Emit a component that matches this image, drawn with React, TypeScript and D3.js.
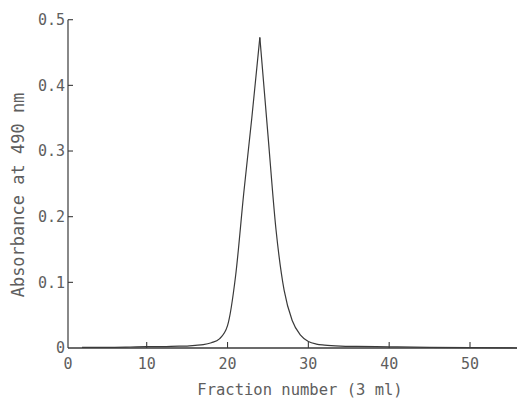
import React, { useEffect, useRef } from "react";
import * as d3 from "d3";

const fractions = [0, 2, 5, 8, 10, 12, 14, 15, 16, 17, 18, 19, 20, 21, 22, 23, 24, 25, 26, 27, 28, 29, 30, 31, 32, 34, 36, 40, 45, 50, 56];
const absorbance = [0.001, 0.001, 0.001, 0.0015, 0.002, 0.002, 0.003, 0.003, 0.004, 0.005, 0.008, 0.014, 0.034, 0.11, 0.235, 0.35, 0.473, 0.325, 0.18, 0.088, 0.042, 0.02, 0.01, 0.006, 0.0045, 0.003, 0.0025, 0.0018, 0.001, 0.0005, 0.0];
const xTicks = [0, 10, 20, 30, 40, 50];
const yTicks = [0, 0.1, 0.2, 0.3, 0.4, 0.5];
const xTitle = "Fraction number (3 ml)";
const yTitle = "Absorbance at 490 nm";

const W = 517;
const H = 403;

export default function App() {
  const ref = useRef<SVGSVGElement>(null);
  useEffect(() => {
    const svg = d3.select(ref.current);
    svg.selectAll("*").remove();
    const x = d3.scaleLinear().domain([10, 50]).range([146.7, 470]);
    const y = d3.scaleLinear().domain([0, 0.5]).range([348, 19.7]);
    const axisX = 68;
    const ink = "#3a3a3a";
    const txt = "#5e5e5e";
    const font = "'DejaVu Sans Mono', monospace";

    svg.append("line").attr("x1", axisX).attr("x2", axisX).attr("y1", y(0.5)).attr("y2", y(0))
      .attr("stroke", ink).attr("stroke-width", 1.2);
    svg.append("line").attr("x1", axisX).attr("x2", W).attr("y1", y(0)).attr("y2", y(0))
      .attr("stroke", ink).attr("stroke-width", 1.3);

    yTicks.forEach((t) => {
      if (t > 0) {
        svg.append("line").attr("x1", axisX).attr("x2", axisX + 5).attr("y1", y(t)).attr("y2", y(t))
          .attr("stroke", ink).attr("stroke-width", 1.1);
      }
      svg.append("text").attr("x", 65).attr("y", y(t)).attr("dy", "0.36em")
        .attr("text-anchor", "end").attr("font-family", font).attr("font-size", 15)
        .attr("fill", txt).text(t === 0 ? "0" : d3.format(".1f")(t));
    });

    xTicks.forEach((t) => {
      if (t > 0) {
        svg.append("line").attr("x1", x(t)).attr("x2", x(t)).attr("y1", y(0)).attr("y2", y(0) - 6)
          .attr("stroke", ink).attr("stroke-width", 1.1);
      }
      svg.append("text").attr("x", t === 0 ? axisX : x(t)).attr("y", 369)
        .attr("text-anchor", "middle").attr("font-family", font).attr("font-size", 15)
        .attr("fill", txt).text(String(t));
    });

    svg.append("text").attr("x", 300).attr("y", 395).attr("text-anchor", "middle")
      .attr("font-family", font).attr("font-size", 15.5).attr("fill", txt).text(xTitle);
    svg.append("text").attr("transform", `translate(24,195) rotate(-90)`).attr("text-anchor", "middle")
      .attr("font-family", font).attr("font-size", 17).attr("fill", txt).text(yTitle);

    const data = fractions.map((f, i) => ({ f, a: absorbance[i] }));
    const peak = d3.maxIndex(absorbance);
    const line = d3.line<{ f: number; a: number }>()
      .x((d) => x(d.f)).y((d) => y(d.a)).curve(d3.curveMonotoneX);
    const clipX = (d: { f: number; a: number }) => x(d.f) >= axisX;
    [data.slice(0, peak + 1), data.slice(peak)].forEach((seg) => {
      svg.append("path").attr("d", line(seg.filter(clipX)) || "")
        .attr("fill", "none").attr("stroke", ink).attr("stroke-width", 1.2);
    });
  }, []);
  return <svg ref={ref} width={W} height={H} style={{ position: "absolute", left: 0, top: 0, background: "#fff" }} />;
}
